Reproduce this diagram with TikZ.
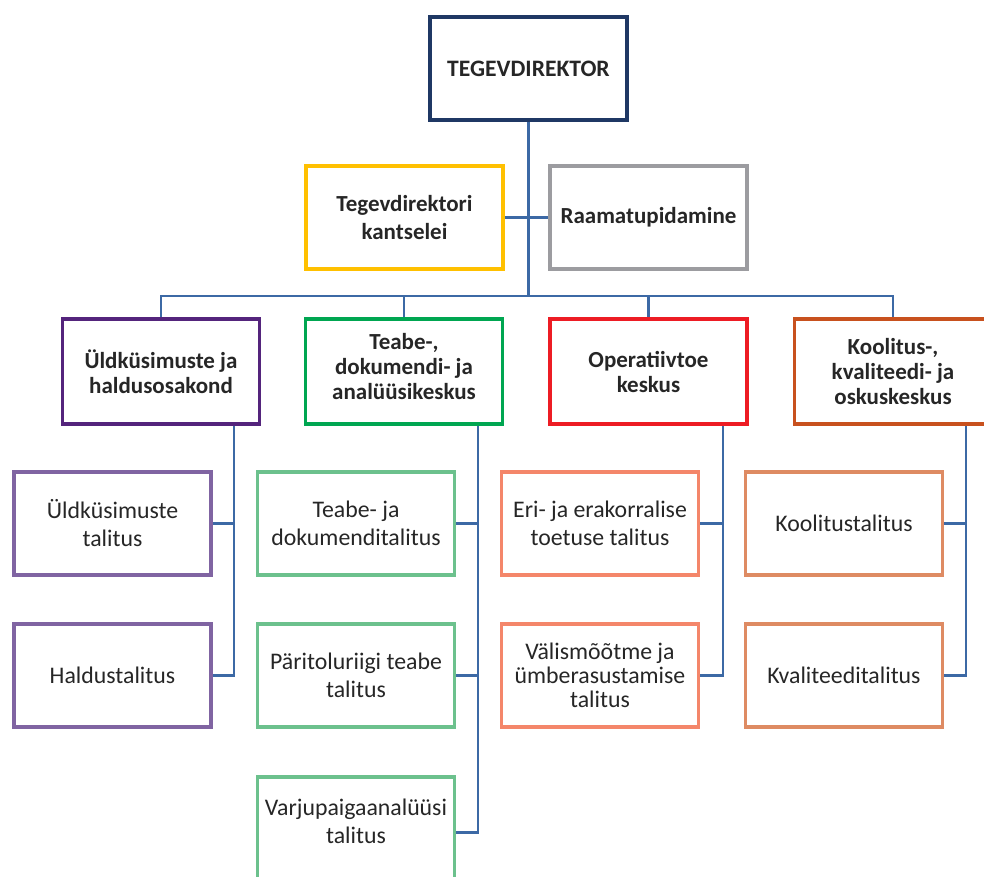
\documentclass[tikz,border=0pt]{standalone}
\usepackage{fontspec}
\setmainfont{Carlito}
\definecolor{navy}{HTML}{1F3864}
\definecolor{gold}{HTML}{FFC000}
\definecolor{grayb}{HTML}{9C9CA0}
\definecolor{purpd}{HTML}{54247C}
\definecolor{greend}{HTML}{00A651}
\definecolor{redd}{HTML}{ED1C24}
\definecolor{rustd}{HTML}{C8511E}
\definecolor{purpl}{HTML}{8064A2}
\definecolor{greenl}{HTML}{6CC18D}
\definecolor{salmon}{HTML}{F4866A}
\definecolor{tan}{HTML}{DE8B63}
\definecolor{lineblue}{HTML}{3C69A5}
\definecolor{txt}{HTML}{262626}
\begin{document}
\begin{tikzpicture}[x=1pt,y=-1pt,
  box/.style={draw, rectangle, line width=3.6pt, minimum width=197pt, minimum height=103pt, inner sep=0pt, align=center, text=txt},
  head/.style={box, font=\fontsize{23}{25}\selectfont\bfseries},
  sub/.style={box, font=\fontsize{23.8}{28}\selectfont},
  conn/.style={draw=lineblue, line width=2.2pt}]
\useasboundingbox (0,0) rectangle (984,877);
\clip (0,0) rectangle (984,877);
% top level
\node[head, draw=navy, font=\fontsize{23.6}{28}\selectfont\bfseries] (top) at (528.5,68.5) {TEGEVDIREKTOR};
\node[head, draw=gold, font=\fontsize{23}{28}\selectfont\bfseries] (kan) at (404.5,217.5) {Tegevdirektori\\kantselei};
\node[head, draw=grayb] (raa) at (648.5,217.5) {Raamatupidamine};
% row 2
\node[head, draw=purpd, minimum height=105pt] (uld) at (161,371.5) {Üldküsimuste ja\\haldusosakond};
\node[head, draw=greend, minimum height=105pt] (tea) at (404,371.5) {Teabe-,\\dokumendi- ja\\analüüsikeskus\\[-22pt]\strut};
\node[head, draw=redd, minimum height=105pt] (ope) at (648.5,371.5) {Operatiivtoe\\keskus};
\node[head, draw=rustd, minimum height=105pt] (koo) at (893,371.5) {Koolitus-,\\kvaliteedi- ja\\oskuskeskus};
% children
\node[sub, draw=purpl] (c11) at (112.5,523.5) {Üldküsimuste\\talitus};
\node[sub, draw=purpl] (c12) at (112.5,675.5) {Haldustalitus};
\node[sub, draw=greenl] (c21) at (356,523.5) {Teabe- ja\\dokumenditalitus};
\node[sub, draw=greenl] (c22) at (356,675.5) {Päritoluriigi teabe\\talitus};
\node[sub, draw=greenl] (c23) at (356,828.5) {Varjupaigaanalüüsi\\talitus\\[-22pt]\strut};
\node[sub, draw=salmon] (c31) at (600,523.5) {Eri- ja erakorralise\\toetuse talitus};
\node[sub, draw=salmon, font=\fontsize{23.8}{24}\selectfont] (c32) at (600,675.5) {Välismõõtme ja\\ümberasustamise\\talitus};
\node[sub, draw=tan] (c41) at (844,523.5) {Koolitustalitus};
\node[sub, draw=tan] (c42) at (844,675.5) {Kvaliteeditalitus};
% connectors top
\coordinate (bus) at (528.5,296);
\draw[conn] (top.south) -- (top.south |- bus);
\draw[conn] (kan.east) -- (raa.west);
\draw[conn] (uld.north) -- (uld.north |- bus) -| (koo.north);
\draw[conn] (tea.north) -- (tea.north |- bus);
\draw[conn] (ope.north) -- (ope.north |- bus);
% spines
\coordinate (s1) at ([xshift=73pt]uld.south);
\coordinate (s2) at ([xshift=74pt]tea.south);
\coordinate (s3) at ([xshift=74.5pt]ope.south);
\coordinate (s4) at ([xshift=73pt]koo.south);
\draw[conn] (s1) |- (c12.east);
\draw[conn] (c11.east) -- (c11.east -| s1);
\draw[conn] (s2) |- ([yshift=-4pt]c23.east);
\draw[conn] (c21.east) -- (c21.east -| s2);
\draw[conn] (c22.east) -- (c22.east -| s2);
\draw[conn] (s3) |- (c32.east);
\draw[conn] (c31.east) -- (c31.east -| s3);
\draw[conn] (s4) |- (c42.east);
\draw[conn] (c41.east) -- (c41.east -| s4);
\end{tikzpicture}
\end{document}
